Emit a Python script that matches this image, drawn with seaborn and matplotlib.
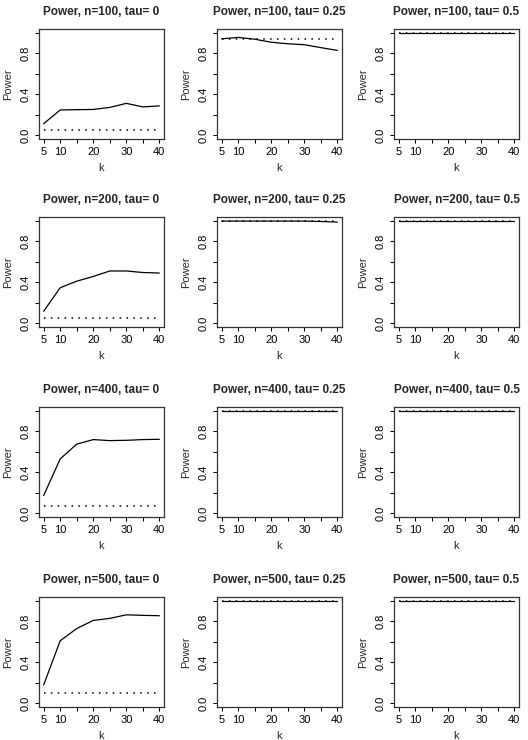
import numpy as np
import pandas as pd
import matplotlib
matplotlib.use("Agg")
import matplotlib.pyplot as plt
import seaborn as sns

# number of components k
k = [5, 10, 15, 20, 25, 30, 35, 40]
n_values = [100, 200, 400, 500]
tau_values = ["0", "0.25", "0.5"]

# solid line: power of the test
power_n100_t0 = [0.11, 0.245, 0.248, 0.25, 0.27, 0.31, 0.275, 0.285]
power_n100_t025 = [0.944, 0.957, 0.94, 0.91, 0.895, 0.886, 0.857, 0.83]
power_n100_t05 = [1.0, 1.0, 1.0, 1.0, 1.0, 1.0, 1.0, 1.0]
power_n200_t0 = [0.114, 0.345, 0.41, 0.456, 0.51, 0.51, 0.495, 0.49]
power_n200_t025 = [1.0, 1.0, 1.0, 1.0, 1.0, 1.0, 0.996, 0.99]
power_n200_t05 = [1.0, 1.0, 1.0, 1.0, 1.0, 1.0, 1.0, 1.0]
power_n400_t0 = [0.17, 0.53, 0.675, 0.72, 0.71, 0.713, 0.72, 0.723]
power_n400_t025 = [1.0, 1.0, 1.0, 1.0, 1.0, 1.0, 1.0, 1.0]
power_n400_t05 = [1.0, 1.0, 1.0, 1.0, 1.0, 1.0, 1.0, 1.0]
power_n500_t0 = [0.176, 0.61, 0.73, 0.81, 0.83, 0.865, 0.86, 0.856]
power_n500_t025 = [1.0, 1.0, 1.0, 1.0, 1.0, 1.0, 1.0, 1.0]
power_n500_t05 = [1.0, 1.0, 1.0, 1.0, 1.0, 1.0, 1.0, 1.0]

# dotted line: reference power
ref_n100_t0 = [0.05] * 8
ref_n100_t025 = [0.945] * 8
ref_n100_t05 = [1.0] * 8
ref_n200_t0 = [0.05] * 8
ref_n200_t025 = [1.0] * 8
ref_n200_t05 = [1.0] * 8
ref_n400_t0 = [0.072] * 8
ref_n400_t025 = [1.0] * 8
ref_n400_t05 = [1.0] * 8
ref_n500_t0 = [0.10] * 8
ref_n500_t025 = [1.0] * 8
ref_n500_t05 = [1.0] * 8

power = [
    [power_n100_t0, power_n100_t025, power_n100_t05],
    [power_n200_t0, power_n200_t025, power_n200_t05],
    [power_n400_t0, power_n400_t025, power_n400_t05],
    [power_n500_t0, power_n500_t025, power_n500_t05],
]
ref = [
    [ref_n100_t0, ref_n100_t025, ref_n100_t05],
    [ref_n200_t0, ref_n200_t025, ref_n200_t05],
    [ref_n400_t0, ref_n400_t025, ref_n400_t05],
    [ref_n500_t0, ref_n500_t025, ref_n500_t05],
]

x_ticks = [5, 10, 15, 20, 25, 30, 35, 40]
x_labels = ["5", "10", "", "20", "", "30", "", "40"]
y_ticks = [0.0, 0.2, 0.4, 0.6, 0.8, 1.0]
y_labels = ["0.0", "", "0.4", "", "0.8", ""]

sns.set_theme(style="white")
plt.rcParams["font.family"] = ["Liberation Sans", "DejaVu Sans"]

W, H = 528, 740
fig = plt.figure(figsize=(W / 100, H / 100), dpi=100)

lefts = [39, 217, 394]
tops = [29, 217, 407, 597]
bw, bh = 125, 110

for i, n in enumerate(n_values):
    for j, tau in enumerate(tau_values):
        ax = fig.add_axes([lefts[j] / W, 1 - (tops[i] + bh) / H, bw / W, bh / H])
        df = pd.DataFrame({"k": k, "power": power[i][j], "ref": ref[i][j]})
        sns.lineplot(data=df, x="k", y="power", ax=ax, color="black", lw=0.9)
        sns.lineplot(data=df, x="k", y="ref", ax=ax, color="black", lw=1.1,
                     linestyle=(0, (1, 3.5)))
        ax.set_xlim(3.6, 41.4)
        ax.set_ylim(-0.04, 1.04)
        ax.set_xticks(x_ticks)
        ax.set_xticklabels(x_labels)
        ax.set_yticks(y_ticks)
        ax.set_yticklabels(y_labels, rotation=90, va="center")
        ax.tick_params(direction="out", length=3.1, width=0.75, colors="black",
                       labelsize=8, pad=3.0, bottom=True, left=True)
        for s in ax.spines.values():
            s.set_color("#333333")
            s.set_linewidth(0.9)
        ax.set_title(f"Power, n={n}, tau= {tau}", fontsize=8.5, fontweight="bold",
                     y=1 + 17 / bh, va="center", pad=0)
        ax.set_xlabel("k", fontsize=8)
        ax.set_ylabel("Power", fontsize=8)
        ax.xaxis.set_label_coords(0.5, -29 / bh)
        ax.xaxis.label.set_va("center")
        ax.yaxis.set_label_coords(-31 / bw, 0.5)
        ax.yaxis.label.set_va("center")

fig.savefig("out.png", dpi=100)
